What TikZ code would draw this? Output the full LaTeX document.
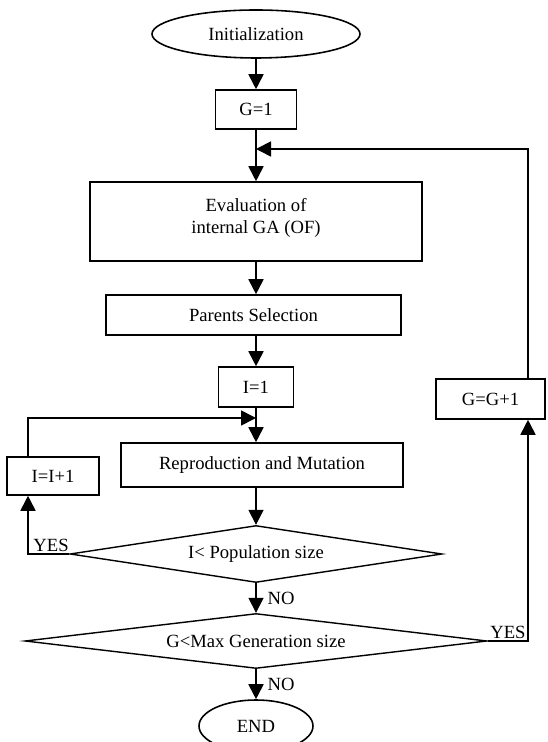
\documentclass[tikz,border=0pt]{standalone}
\usepackage{fontspec}
\setmainfont{Liberation Serif}
\usepackage{tikz}
\usetikzlibrary{shapes.geometric,positioning,calc,arrows.meta}

\begin{document}
\begin{tikzpicture}[
  font=\fontsize{10.6}{12.5}\selectfont,
  box/.style={draw, line width=0.9pt, rectangle, inner sep=0pt, align=center},
  term/.style={draw, line width=0.9pt, ellipse, inner sep=0pt},
  test/.style={draw, line width=0.8pt, diamond, aspect=8, inner sep=0pt},
  arr/.style={line width=1pt, -{Triangle[length=3mm, width=3mm]}},
  yesno/.style={inner sep=1pt}
]
  \useasboundingbox (0, 0) rectangle (10.94, 14.84);

  % Start and generation counter
  \node[term, minimum width=4.16cm, minimum height=0.96cm] (init) at (5.12, 14.16) {Initialization};
  \node[box, minimum width=1.62cm, minimum height=0.78cm] (g1) at (5.12, 12.65) {G=1};
  \coordinate (gjoin) at (5.12, 11.86);
  \draw[arr] (init.south) -- (g1.north);

  % Outer loop body
  \node[box, minimum width=6.64cm, minimum height=1.58cm] (eval) at (5.12, 10.41) {Evaluation of\\internal GA (OF)\\[-0.6em]\mbox{}};
  \node[box, minimum width=5.9cm, minimum height=0.8cm] (parents) at (5.07, 8.54) {Parents Selection};
  \node[box, minimum width=1.5cm, minimum height=0.8cm] (i1) at (5.12, 7.10) {I=1};
  \draw[arr] (g1.south) -- (eval.north);
  \draw[arr] (eval.south) -- (eval.south |- parents.north);
  \draw[arr] (eval.south |- parents.south) -- (i1.north);

  % Inner loop
  \coordinate (ijoin) at (5.12, 6.48);
  \coordinate (ileft) at (0.56, 6.48);
  \node[box, minimum width=5.64cm, minimum height=0.88cm] (repro) at (5.24, 5.54) {Reproduction and Mutation};
  \node[box, minimum width=1.84cm, minimum height=0.76cm] (inc) at (1.06, 5.32) {I=I+1};
  \node[test, minimum width=7.44cm, minimum height=1.14cm] (d1) at (5.12, 3.76) {I\textless{} Population size};
  \draw[arr] (i1.south) -- (i1.south |- repro.north);
  \draw[arr] (i1.south |- repro.south) -- (d1.north);
  \draw[arr] (d1.west) node[yesno, anchor=south east, xshift=0.04cm] (yes1) {YES}
    -- (d1.west -| ileft) -- (inc.south -| ileft);
  \draw[arr] (inc.north -| ileft) -- (ileft) -- (ijoin);

  % Generation test
  \node[test, minimum width=9.24cm, minimum height=1.1cm] (d2) at (5.12, 2.02) {G\textless{}Max Generation size};
  \node[term, minimum width=2.28cm, minimum height=1.04cm] (end) at (5.12, 0.32) {END};
  \draw[arr] (d1.south) -- node[right, xshift=1mm] (no1) {NO} (d2.north);
  \draw[arr] (d2.south) -- node[right, xshift=1mm] (no2) {NO} (end.north);

  % Outer loop back
  \coordinate (gright) at (10.56, 11.86);
  \node[box, minimum width=2.18cm, minimum height=0.8cm] (ginc) at (9.81, 6.86) {G=G+1};
  \draw[arr] (d2.east) node[yesno, anchor=south west] (yes2) {YES}
    -- (d2.east -| gright) -- (ginc.south -| gright);
  \draw[arr] (ginc.north -| gright) -- (gright) -- (gjoin);
\end{tikzpicture}
\end{document}
